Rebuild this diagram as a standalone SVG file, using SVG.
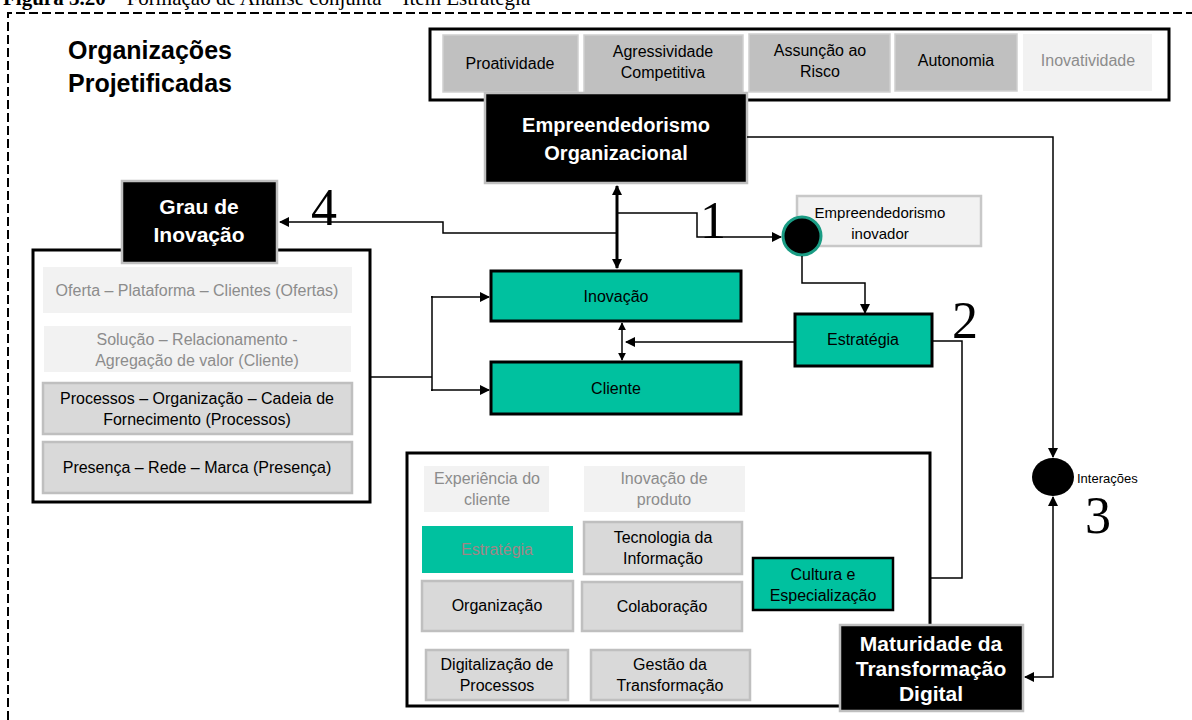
<svg xmlns="http://www.w3.org/2000/svg" width="1192" height="720" viewBox="0 0 1192 720">
  <defs>
    <marker id="arr" viewBox="0 0 10 10" refX="9" refY="5" markerWidth="10" markerHeight="10" markerUnits="userSpaceOnUse" orient="auto-start-reverse">
      <path d="M0,0 L10,5 L0,10 z" fill="#000"/>
    </marker>
    <marker id="arrS" viewBox="0 0 10 10" refX="9" refY="5" markerWidth="8" markerHeight="8" markerUnits="userSpaceOnUse" orient="auto-start-reverse">
      <path d="M0,0 L10,5 L0,10 z" fill="#000"/>
    </marker>
  </defs>
  <style>
    text { font-family: "Liberation Sans", Arial, sans-serif; text-anchor: middle; }
    .frame { fill: #fff; stroke: #000; stroke-width: 3; }
    .dark { fill: #000; stroke: #bfbfbf; stroke-width: 2.5; }
    .dark-t { fill: #fff; font-weight: bold; }
    .teal { fill: #00c19f; stroke: #000; stroke-width: 3; }
    .cell { fill: #d9d9d9; stroke: #bfbfbf; stroke-width: 2.5; }
    .cellTop { fill: #c0c0c0; stroke: #cfcfcf; stroke-width: 1.5; }
    .pale { fill: #f2f2f2; stroke: none; }
    .t { fill: #000; font-size: 16px; }
    .t.s { font-size: 15px; }
    .t.pale-t { fill: #8c8c8c; }
    .t.muted { fill: #a08686; }
    .num { font-family: "Liberation Serif", "Times New Roman", serif; font-size: 52px; fill: #000; text-anchor: start; }
    .wire { fill: none; stroke: #000; stroke-width: 1.5; }
  </style>

  <!-- caption, running off the top edge -->
  <text x="3" y="5" style="font-family:'Liberation Serif','Times New Roman',serif;font-size:21px;text-anchor:start"><tspan font-weight="bold">Figura 3.20</tspan> – Formação de Análise conjunta – Item Estratégia</text>

  <!-- dashed outer frame -->
  <path d="M8,720 V13 H1192" fill="none" stroke="#000" stroke-width="2" stroke-dasharray="9,4"/>

  <!-- heading -->
  <g id="heading">
    <text x="68" y="59" style="text-anchor:start;font-weight:bold;font-size:25px">Organizações</text>
    <text x="68" y="92" style="text-anchor:start;font-weight:bold;font-size:25px">Projetificadas</text>
  </g>

  <!-- entrepreneurial dimensions -->
  <g id="dimensoes">
    <rect class="frame" x="430" y="29" width="739" height="71"/>
    <rect class="cellTop" x="443" y="35" width="135" height="57"/>
    <text class="t" x="510" y="69">Proatividade</text>
    <rect class="cellTop" x="584" y="35" width="159" height="59"/>
    <text class="t" x="663" y="57">Agressividade</text>
    <text class="t" x="663" y="78">Competitiva</text>
    <rect class="cellTop" x="749" y="34" width="141" height="58"/>
    <text class="t" x="820" y="56">Assunção ao</text>
    <text class="t" x="820" y="77">Risco</text>
    <rect class="cellTop" x="895" y="34" width="122" height="57"/>
    <text class="t" x="956" y="66">Autonomia</text>
    <rect class="pale" x="1023" y="34" width="129" height="57"/>
    <text class="t pale-t" x="1088" y="66">Inovatividade</text>
  </g>

  <g id="empreendedorismo-organizacional">
    <rect class="dark" x="485" y="93" width="262" height="90"/>
    <text class="dark-t" x="616" y="132" style="font-size:20px">Empreendedorismo</text>
    <text class="dark-t" x="616" y="160" style="font-size:20px">Organizacional</text>
  </g>

  <!-- degree of innovation -->
  <g id="grau-inovacao">
    <rect class="frame" x="33" y="250" width="337" height="252"/>
    <rect class="dark" x="122" y="181" width="155" height="82"/>
    <text class="dark-t" x="199" y="214" style="font-size:21px">Grau de</text>
    <text class="dark-t" x="199" y="242" style="font-size:21px">Inovação</text>
    <rect class="pale" x="43" y="267" width="309" height="46"/>
    <text class="t pale-t" x="197" y="296">Oferta – Plataforma – Clientes (Ofertas)</text>
    <rect class="pale" x="44" y="326" width="307" height="46"/>
    <text class="t pale-t" x="197" y="345">Solução – Relacionamento  -</text>
    <text class="t pale-t" x="197" y="366">Agregação de valor (Cliente)</text>
    <rect class="cell" x="43" y="383" width="309" height="51"/>
    <text class="t" x="197" y="404">Processos – Organização – Cadeia de</text>
    <text class="t" x="197" y="425">Fornecimento (Processos)</text>
    <rect class="cell" x="43" y="442" width="309" height="51"/>
    <text class="t" x="197" y="473">Presença – Rede – Marca (Presença)</text>
  </g>

  <g id="inovacao">
    <rect class="teal" x="491" y="271" width="250" height="50"/>
    <text class="t" x="616" y="302">Inovação</text>
  </g>
  <g id="cliente">
    <rect class="teal" x="491" y="362" width="250" height="52"/>
    <text class="t" x="616" y="394">Cliente</text>
  </g>

  <g id="empreendedorismo-inovador">
    <rect x="797" y="196" width="184" height="50" fill="#f2f2f2" stroke="#c8c8c8" stroke-width="2.5"/>
    <text class="t s" x="880" y="218">Empreendedorismo</text>
    <text class="t s" x="880" y="239">inovador</text>
    <circle cx="802" cy="236" r="19" fill="#000" stroke="#1a9c84" stroke-width="3"/>
  </g>

  <g id="estrategia">
    <rect class="teal" x="795" y="314" width="137" height="52"/>
    <text class="t" x="863" y="345">Estratégia</text>
  </g>

  <!-- digital transformation maturity -->
  <g id="maturidade-digital">
    <rect class="frame" x="407" y="453" width="523" height="253"/>
    <rect class="pale" x="424" y="466" width="125" height="46"/>
    <text class="t pale-t" x="487" y="484">Experiência do</text>
    <text class="t pale-t" x="487" y="505">cliente</text>
    <rect class="pale" x="584" y="466" width="161" height="46"/>
    <text class="t pale-t" x="664" y="484">Inovação de</text>
    <text class="t pale-t" x="664" y="505">produto</text>
    <rect x="422" y="526" width="151" height="47" fill="#00c19f"/>
    <text class="t muted" x="497" y="555">Estratégia</text>
    <rect class="cell" x="584" y="522" width="158" height="52"/>
    <text class="t" x="663" y="543">Tecnologia da</text>
    <text class="t" x="663" y="564">Informação</text>
    <rect class="cell" x="422" y="581" width="151" height="50"/>
    <text class="t" x="497" y="611">Organização</text>
    <rect class="cell" x="582" y="582" width="160" height="49"/>
    <text class="t" x="662" y="612">Colaboração</text>
    <rect class="cell" x="426" y="650" width="142" height="50"/>
    <text class="t" x="497" y="670">Digitalização de</text>
    <text class="t" x="497" y="691">Processos</text>
    <rect class="cell" x="591" y="650" width="159" height="50"/>
    <text class="t" x="670" y="670">Gestão da</text>
    <text class="t" x="670" y="691">Transformação</text>
  </g>

  <g id="cultura">
    <rect x="753" y="558" width="140" height="52" fill="#00c19f" stroke="#000" stroke-width="2.5"/>
    <text class="t" x="823" y="580">Cultura  e</text>
    <text class="t" x="823" y="601">Especialização</text>
  </g>

  <g id="maturidade">
    <rect class="dark" x="840" y="625" width="183" height="86"/>
    <text class="dark-t" x="931" y="651" style="font-size:21px">Maturidade da</text>
    <text class="dark-t" x="931" y="676" style="font-size:21px">Transformação</text>
    <text class="dark-t" x="931" y="701" style="font-size:21px">Digital</text>
  </g>

  <g id="interacoes">
    <ellipse cx="1053" cy="477" rx="21" ry="19" fill="#000"/>
    <text x="1077" y="483" style="text-anchor:start;font-size:13px">Interações</text>
  </g>

  <!-- connectors -->
  <g id="connectors">
    <line x1="617" y1="186" x2="617" y2="268" stroke="#000" stroke-width="3" marker-start="url(#arr)" marker-end="url(#arr)"/>
    <polyline class="wire" points="617,233 443,233 443,222 280,222" marker-end="url(#arr)"/>
    <polyline class="wire" points="617,213 697,213 697,237 781,237" marker-end="url(#arr)"/>
    <polyline class="wire" points="802,256 802,283 865,283 865,313" marker-end="url(#arr)"/>
    <line class="wire" x1="795" y1="342" x2="626" y2="342" marker-end="url(#arr)"/>
    <line class="wire" x1="622" y1="323" x2="622" y2="360" marker-start="url(#arrS)" marker-end="url(#arrS)"/>
    <path class="wire" d="M370,377 H432 M432,296 V391"/>
    <polyline class="wire" points="431,297 489,297" marker-end="url(#arr)"/>
    <polyline class="wire" points="431,390 489,390" marker-end="url(#arr)"/>
    <polyline class="wire" points="932,341 962,341 962,578 930,578"/>
    <polyline class="wire" points="747,137 1053,137 1053,457" marker-end="url(#arr)"/>
    <polyline class="wire" points="1053,497 1053,677 1025,677" marker-start="url(#arr)" marker-end="url(#arr)"/>
  </g>

  <!-- step numbers -->
  <g id="numeros">
    <text class="num" x="311" y="225">4</text>
    <text class="num" x="700" y="238">1</text>
    <text class="num" x="952" y="338">2</text>
    <text class="num" x="1085" y="533">3</text>
  </g>
</svg>
